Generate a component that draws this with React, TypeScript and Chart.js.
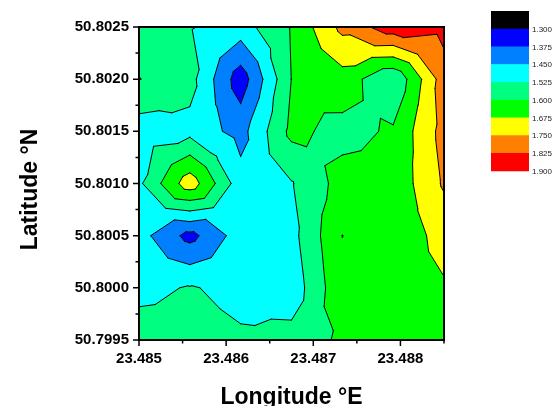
import React, { useEffect, useRef } from 'react';
import { Chart, registerables } from 'chart.js';

Chart.register(...registerables);

const FONT = '"Liberation Sans", Arial, Helvetica, sans-serif';

// Grid coordinates
const longitudes = [23.485, 23.4855833, 23.4861667, 23.48675, 23.4873333, 23.4879167, 23.4885];
const latitudes = [50.7995, 50.8, 50.8005, 50.801, 50.8015, 50.802, 50.8025];

// Measured values, one row per latitude (west -> east)
const valuesLat7995 = [1.56, 1.55, 1.534, 1.554, 1.613, 1.64, 1.65];
const valuesLat8000 = [1.505, 1.53, 1.505, 1.478, 1.66, 1.64, 1.668];
const valuesLat8005 = [1.48, 1.35, 1.489, 1.5, 1.6755, 1.627, 1.7];
const valuesLat8010 = [1.51, 1.72, 1.48, 1.52, 1.63, 1.62, 1.76];
const valuesLat8015 = [1.486, 1.5, 1.422, 1.62, 1.575, 1.61, 1.778];
const valuesLat8020 = [1.602, 1.553, 1.333, 1.601, 1.645, 1.53, 1.79];
const valuesLat8025 = [1.56, 1.53, 1.49, 1.607, 1.77, 1.87, 1.85];

const contourLevels = [1.3, 1.375, 1.45, 1.525, 1.6, 1.675, 1.75, 1.825, 1.9];
const bandColors = ['#000000', '#0000FF', '#0080FF', '#00FFFF', '#00FF80', '#00FF00', '#FFFF00', '#FF8000', '#FF0000'];

const xTickValues = [23.485, 23.486, 23.487, 23.488];
const xMinorTickValues = [23.4855, 23.4865, 23.4875, 23.4885];
const yTickValues = [50.7995, 50.8, 50.8005, 50.801, 50.8015, 50.802, 50.8025];
const yMinorTickValues = [50.79975, 50.80025, 50.80075, 50.80125, 50.80175, 50.80225];

const xTitle = 'Longitude °E';
const yTitle = 'Latitude °N';

const gridRows = [valuesLat7995, valuesLat8000, valuesLat8005, valuesLat8010, valuesLat8015, valuesLat8020, valuesLat8025];

type P = { x: number; y: number; v: number };

function clipPoly(poly: P[], level: number, above: boolean): P[] {
  const out: P[] = [];
  for (let k = 0; k < poly.length; k++) {
    const a = poly[k];
    const b = poly[(k + 1) % poly.length];
    const ina = above ? a.v >= level : a.v <= level;
    const inb = above ? b.v >= level : b.v <= level;
    if (ina) out.push(a);
    if (ina !== inb) {
      const t = (level - a.v) / (b.v - a.v);
      out.push({ x: a.x + t * (b.x - a.x), y: a.y + t * (b.y - a.y), v: level });
    }
  }
  return out;
}

function buildTriangles(chart: any): P[][] {
  const xs = chart.scales.x;
  const ys = chart.scales.y;
  const px = longitudes.map((v) => xs.getPixelForValue(v));
  const py = latitudes.map((v) => ys.getPixelForValue(v));
  const tris: P[][] = [];
  for (let j = 0; j < latitudes.length - 1; j++) {
    for (let i = 0; i < longitudes.length - 1; i++) {
      const bl = { x: px[i], y: py[j], v: gridRows[j][i] };
      const br = { x: px[i + 1], y: py[j], v: gridRows[j][i + 1] };
      const tr = { x: px[i + 1], y: py[j + 1], v: gridRows[j + 1][i + 1] };
      const tl = { x: px[i], y: py[j + 1], v: gridRows[j + 1][i] };
      const c = { x: (bl.x + br.x) / 2, y: (bl.y + tl.y) / 2, v: (bl.v + br.v + tr.v + tl.v) / 4 };
      tris.push([bl, br, c], [br, tr, c], [tr, tl, c], [tl, bl, c]);
    }
  }
  return tris;
}

const contourPlugin = {
  id: 'contourPlugin',
  beforeDatasetsDraw(chart: any) {
    const { ctx, chartArea: a } = chart;
    const tris = buildTriangles(chart);
    ctx.save();
    ctx.beginPath();
    ctx.rect(a.left, a.top, a.right - a.left, a.bottom - a.top);
    ctx.clip();
    for (let k = 0; k < bandColors.length; k++) {
      const lo = k === 0 ? -Infinity : contourLevels[k - 1];
      const hi = k === bandColors.length - 1 ? Infinity : contourLevels[k];
      ctx.beginPath();
      let any = false;
      for (const t of tris) {
        let p: P[] = t;
        if (lo > -Infinity) p = clipPoly(p, lo, true);
        if (p.length < 3) continue;
        if (hi < Infinity) p = clipPoly(p, hi, false);
        if (p.length < 3) continue;
        ctx.moveTo(p[0].x, p[0].y);
        for (let q = 1; q < p.length; q++) ctx.lineTo(p[q].x, p[q].y);
        ctx.closePath();
        any = true;
      }
      if (any) {
        ctx.fillStyle = bandColors[k];
        ctx.fill();
      }
    }
    // contour lines
    ctx.beginPath();
    for (const t of tris) {
      for (const L of contourLevels) {
        const pts: number[][] = [];
        for (let e = 0; e < 3; e++) {
          const p1 = t[e];
          const p2 = t[(e + 1) % 3];
          if ((p1.v >= L) !== (p2.v >= L)) {
            const s = (L - p1.v) / (p2.v - p1.v);
            pts.push([p1.x + s * (p2.x - p1.x), p1.y + s * (p2.y - p1.y)]);
          }
        }
        if (pts.length === 2) {
          ctx.moveTo(pts[0][0], pts[0][1]);
          ctx.lineTo(pts[1][0], pts[1][1]);
        }
      }
    }
    ctx.strokeStyle = '#000';
    ctx.lineWidth = 1;
    ctx.lineCap = 'round';
    ctx.stroke();
    ctx.restore();
  },
  afterDraw(chart: any) {
    const { ctx, chartArea: a, scales } = chart;
    const xs = scales.x;
    const ys = scales.y;
    ctx.save();
    ctx.strokeStyle = '#000';
    ctx.lineWidth = 1.5;
    ctx.beginPath();
    for (const v of xTickValues) {
      const p = xs.getPixelForValue(v);
      ctx.moveTo(p, a.bottom);
      ctx.lineTo(p, a.bottom + 6);
    }
    for (const v of xMinorTickValues) {
      const p = xs.getPixelForValue(v);
      ctx.moveTo(p, a.bottom);
      ctx.lineTo(p, a.bottom + 3.5);
    }
    for (const v of yTickValues) {
      const p = ys.getPixelForValue(v);
      ctx.moveTo(a.left, p);
      ctx.lineTo(a.left - 6, p);
    }
    for (const v of yMinorTickValues) {
      const p = ys.getPixelForValue(v);
      ctx.moveTo(a.left, p);
      ctx.lineTo(a.left - 3.5, p);
    }
    ctx.stroke();
    ctx.lineWidth = 2;
    ctx.strokeRect(a.left, a.top, a.right - a.left, a.bottom - a.top);

    // axis titles
    ctx.fillStyle = '#000';
    ctx.font = `bold 23px ${FONT}`;
    ctx.textAlign = 'center';
    ctx.textBaseline = 'alphabetic';
    ctx.fillText(xTitle, (a.left + a.right) / 2, 403.5);
    ctx.save();
    ctx.translate(37, (a.top + a.bottom) / 2 + 6);
    ctx.rotate(-Math.PI / 2);
    ctx.fillText(yTitle, 0, 0);
    ctx.restore();

    // colour scale
    const lx = 491;
    const lw = 38;
    const ly = 11;
    const lh = 17.75;
    bandColors.forEach((c, k) => {
      ctx.fillStyle = c;
      ctx.fillRect(lx, ly + k * lh, lw, lh + 0.5);
    });
    ctx.font = `8px ${FONT}`;
    ctx.textAlign = 'left';
    ctx.textBaseline = 'middle';
    ctx.fillStyle = '#222';
    contourLevels.forEach((L, k) => {
      ctx.fillText(L.toFixed(3), lx + lw + 3, ly + (k + 1) * lh + 1);
    });
    ctx.restore();
  },
};

export default function App() {
  const canvasRef = useRef<HTMLCanvasElement | null>(null);

  useEffect(() => {
    const canvas = canvasRef.current;
    if (!canvas) return;
    const points: { x: number; y: number }[] = [];
    latitudes.forEach((lat) => longitudes.forEach((lon) => points.push({ x: lon, y: lat })));
    const tickFont = { family: FONT, size: 15, weight: 'bold' as const };
    const chart = new Chart(canvas, {
      type: 'scatter',
      data: {
        datasets: [
          {
            data: points,
            pointRadius: 0,
            pointHoverRadius: 0,
            showLine: false,
          },
        ],
      },
      options: {
        responsive: false,
        animation: false,
        devicePixelRatio: 1,
        events: [],
        layout: { padding: { top: 27, right: 108, bottom: 0, left: 0 } },
        plugins: {
          legend: { display: false },
          tooltip: { enabled: false },
          title: { display: false },
        },
        scales: {
          x: {
            type: 'linear',
            min: 23.485,
            max: 23.4885,
            afterBuildTicks: (s: any) => {
              s.ticks = xTickValues.map((v) => ({ value: v }));
            },
            afterFit: (s: any) => {
              s.height = 66;
            },
            ticks: {
              autoSkip: false,
              maxRotation: 0,
              minRotation: 0,
              padding: 4,
              color: '#000',
              font: tickFont,
              callback: (v: any) => Number(v).toFixed(3),
            },
            grid: {
              display: true,
              drawOnChartArea: false,
              drawTicks: true,
              tickLength: 6,
              tickColor: 'rgba(0,0,0,0)',
            },
            border: { display: false },
          },
          y: {
            type: 'linear',
            min: 50.7995,
            max: 50.8025,
            afterBuildTicks: (s: any) => {
              s.ticks = yTickValues.map((v) => ({ value: v }));
            },
            afterFit: (s: any) => {
              s.width = 139;
            },
            ticks: {
              autoSkip: false,
              padding: 4,
              color: '#000',
              font: tickFont,
              callback: (v: any) => Number(v).toFixed(4),
            },
            grid: {
              display: true,
              drawOnChartArea: false,
              drawTicks: true,
              tickLength: 6,
              tickColor: 'rgba(0,0,0,0)',
            },
            border: { display: false },
          },
        },
      },
      plugins: [contourPlugin],
    });
    return () => chart.destroy();
  }, []);

  return (
    <div style={{ position: 'absolute', left: 0, top: 0, width: 552, height: 406, background: '#fff' }}>
      <canvas ref={canvasRef} width={552} height={406} style={{ width: 552, height: 406, display: 'block' }} />
    </div>
  );
}
